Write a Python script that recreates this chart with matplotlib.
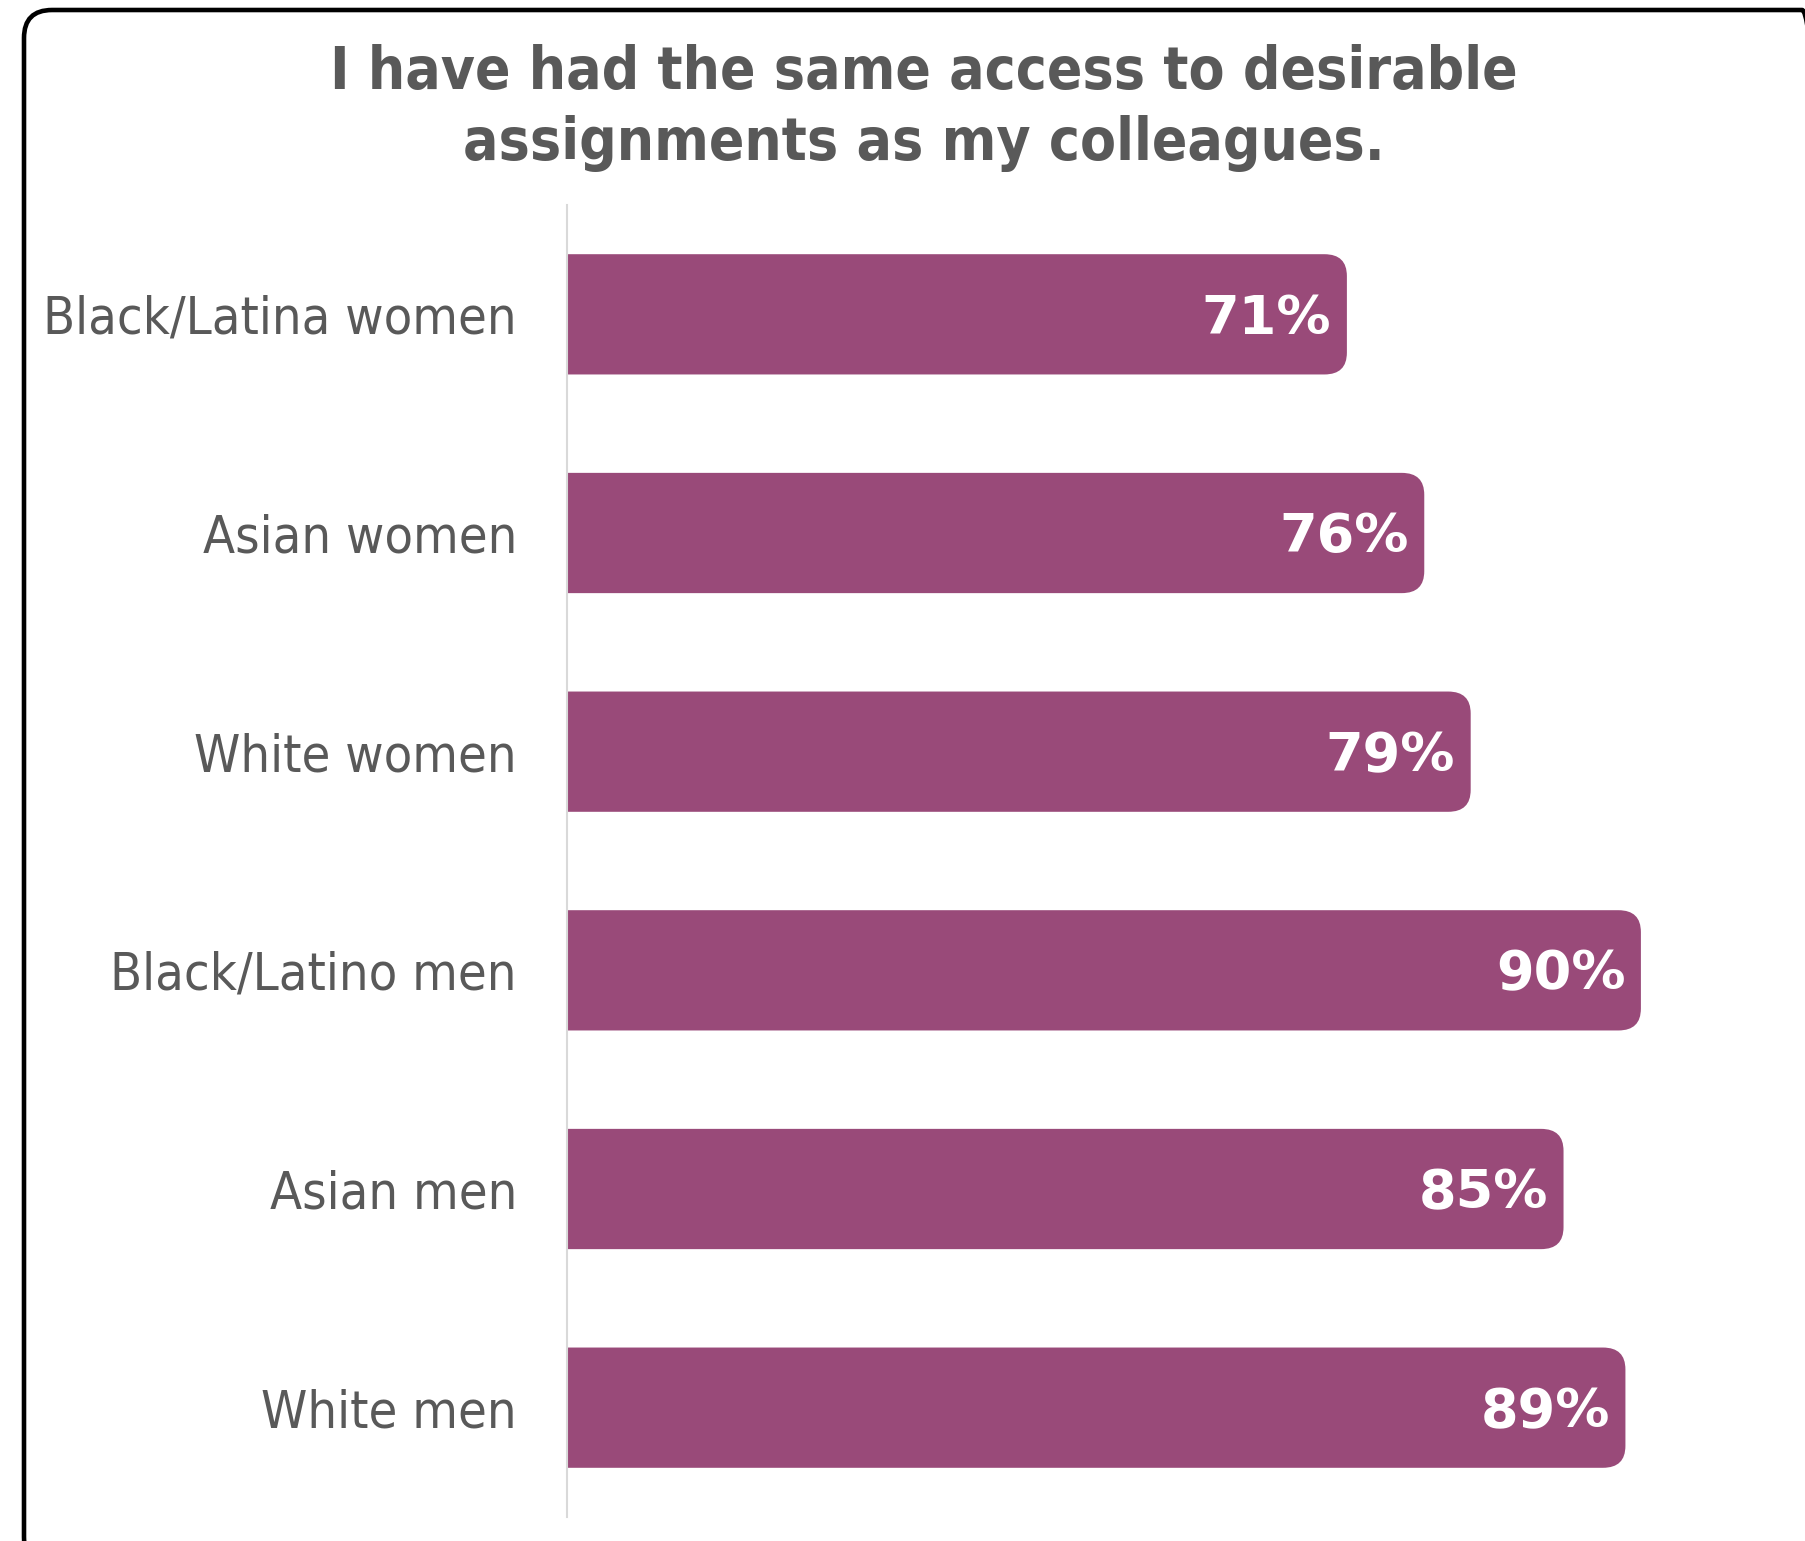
import matplotlib
matplotlib.use("Agg")
import matplotlib.pyplot as plt
from matplotlib.patches import FancyBboxPatch
from matplotlib.transforms import IdentityTransform

groups = ["Black/Latina women", "Asian women", "White women",
          "Black/Latino men", "Asian men", "White men"]
shares = [71, 76, 79, 90, 85, 89]
title = "I have had the same access to desirable\nassignments as my colleagues."

bar_color = "#994a79"
text_color = "#595959"

plt.rcParams["font.family"] = ["DejaVu Sans"]
plt.rcParams["font.stretch"] = "condensed"

fig = plt.figure(figsize=(18.05, 15.41), dpi=100)
ax = fig.add_axes([567 / 1805, 1 - 1517 / 1541, (1791 - 567) / 1805, (1517 - 205) / 1541])

bars = ax.barh(range(len(groups)), shares, height=0.55, color=bar_color)
ax.set_xlim(20.6, 99.7)
ax.set_ylim(len(groups) - 0.5, -0.5)

# swap plain rectangles for ones with rounded ends
for rect in bars:
    x, y = rect.get_x(), rect.get_y()
    w, h = rect.get_width(), rect.get_height()
    rect.set_visible(False)
    rb = FancyBboxPatch((x, y), w, h, boxstyle="round,pad=0,rounding_size=1.45",
                        mutation_aspect=0.069, facecolor=bar_color, edgecolor="none")
    ax.add_patch(rb)

for i, v in enumerate(shares):
    ax.text(v - 1.0, i + 0.02, f"{v}%", ha="right", va="center", color="white",
            fontsize=39, fontweight="bold", fontstretch="normal")

ax.set_yticks(range(len(groups)))
ax.set_yticklabels(groups, fontsize=37.5, color=text_color)
ax.tick_params(axis="y", length=0, pad=36)
ax.set_xticks([])
for s in ["top", "right", "bottom"]:
    ax.spines[s].set_visible(False)
ax.spines["left"].set_color("#d9d9d9")
ax.spines["left"].set_linewidth(1.5)

fig.text(924 / 1805, 1 - 44 / 1541, title, ha="center", va="top", fontsize=42,
         fontweight="bold", color=text_color, linespacing=1.32)

# rounded frame running off the right and bottom edges
frame = FancyBboxPatch((24, -24), 1806, 1531 + 24, boxstyle="round,pad=0,rounding_size=28",
                       transform=IdentityTransform(), facecolor="none",
                       edgecolor="black", linewidth=3.3)
fig.patches.append(frame)

fig.savefig("out.png", dpi=100)
